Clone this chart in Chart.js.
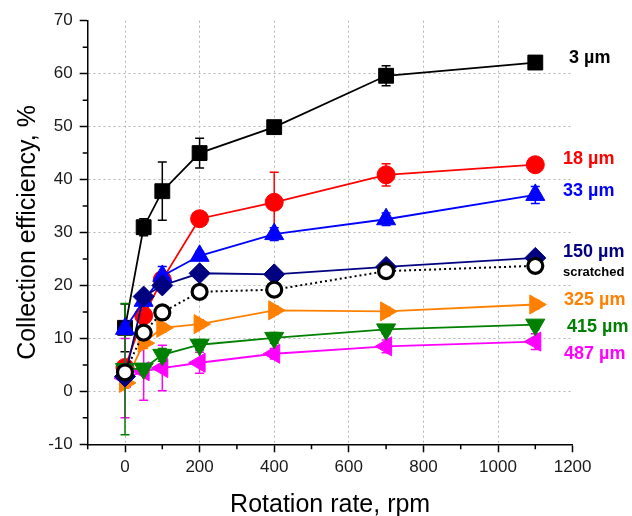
<!DOCTYPE html>
<html>
<head>
<meta charset="utf-8">
<title>Collection efficiency vs rotation rate</title>
<script src="https://cdn.jsdelivr.net/npm/chart.js@4.4.1/dist/chart.umd.min.js"></script>
<style>
  html, body { margin: 0; padding: 0; background: #fff; }
  canvas { display: block; }
</style>
</head>
<body>
<canvas id="chart" width="632" height="516"></canvas>
<script>
// rotation rates (rpm) shared by every series
const rpm = [0, 50, 100, 200, 400, 700, 1100];

// collection efficiency (%) and error (+/-) per particle size
const eff3 = [12.0, 31.0, 37.8, 45.0, 49.9, 59.6, 62.1];
const err3 = [4.5, 1.6, 5.5, 2.8, 0.6, 1.9, 0.6];
const eff18 = [4.5, 14.3, 21.1, 32.6, 35.7, 40.9, 42.8];
const err18 = [0.8, 0.8, 1.2, 0.5, 5.7, 2.1, 0.5];
const eff33 = [11.8, 17.1, 21.8, 25.6, 29.7, 32.5, 37.1];
const err33 = [1.0, 1.0, 1.8, 0.8, 1.2, 1.2, 1.6];
const eff150 = [2.8, 17.9, 20.0, 22.3, 22.1, 23.5, 25.2];
const err150 = [0.5, 1.0, 0.8, 0.5, 0.5, 0.5, 0.5];
const eff150s = [3.6, 11.1, 14.9, 18.8, 19.2, 22.7, 23.7];
const eff325 = [1.6, 9.1, 12.0, 12.7, 15.3, 15.1, 16.4];
const err325 = [1.0, 1.0, 0.8, 0.8, 0.8, 0.8, 0.8];
const eff415 = [4.2, 4.3, 6.9, 8.8, 10.1, 11.7, 12.6];
const err415 = [12.4, 0.8, 1.2, 1.0, 1.0, 0.8, 0.8];
const eff487 = [2.5, 3.8, 4.4, 5.4, 7.1, 8.5, 9.4];
const err487 = [7.5, 5.5, 4.3, 2.0, 1.0, 1.2, 1.5];

const seriesNames = ['3 µm', '18 µm', '33 µm', '150 µm', '150 µm scratched', '325 µm', '415 µm', '487 µm'];

// x ticks: labels every 200, minor ticks every 100
const xMajor = [0, 200, 400, 600, 800, 1000, 1200];
const yMajor = [-10, 0, 10, 20, 30, 40, 50, 60, 70];

const FONT = "'Liberation Sans', Arial, sans-serif";

function points(vals) {
  return rpm.map((x, i) => ({ x: x, y: vals[i] }));
}

function series(idx, vals, errs, color, style, opts) {
  return Object.assign({
    label: seriesNames[idx],
    data: points(vals),
    errors: errs,
    borderColor: color,
    backgroundColor: color,
    borderWidth: 1.8,
    pointStyle: style,
    pointRadius: 11,
    pointBorderWidth: 1,
    pointBorderColor: color,
    pointBackgroundColor: color,
    tension: 0
  }, opts || {});
}

const datasets = [
  series(0, eff3, err3, '#000000', 'rect', { pointRadius: 10.5, order: 8 }),
  series(1, eff18, err18, '#ff0000', 'circle', { pointRadius: 9, order: 7 }),
  series(2, eff33, err33, '#0000ff', 'triangle', { order: 3 }),
  series(3, eff150, err150, '#000080', 'rectRot', { pointRadius: 10.5, order: 2 }),
  series(4, eff150s, null, '#000000', 'circle', {
    pointRadius: 7.5, pointBorderWidth: 3.2, pointBackgroundColor: '#ffffff',
    borderWidth: 2, borderDash: [2, 3], order: 1
  }),
  series(5, eff325, err325, '#ff8000', 'triangle', { pointRotation: 90, order: 5 }),
  series(6, eff415, err415, '#008000', 'triangle', { pointRotation: 180, order: 4 }),
  series(7, eff487, err487, '#ff00ff', 'triangle', { pointRotation: 270, order: 6 })
];

// text labels at the right end of each curve
const curveLabels = [
  { text: '3 µm', color: '#000000', x: 569, y: 58, size: 18 },
  { text: '18 µm', color: '#ff0000', x: 563, y: 159, size: 18 },
  { text: '33 µm', color: '#0000ff', x: 563, y: 191, size: 18 },
  { text: '150 µm', color: '#000080', x: 563, y: 252, size: 18 },
  { text: 'scratched', color: '#000000', x: 563, y: 272, size: 13 },
  { text: '325 µm', color: '#ff8000', x: 564, y: 300, size: 18 },
  { text: '415 µm', color: '#008000', x: 567, y: 327, size: 18 },
  { text: '487 µm', color: '#ff00ff', x: 564, y: 354, size: 18 }
];

// vertical error bars, drawn right after each dataset
const errorBars = {
  id: 'errorBars',
  afterDatasetDraw(chart, args) {
    const ds = chart.data.datasets[args.index];
    if (!ds.errors) return;
    const { ctx, scales: { x, y } } = chart;
    ctx.save();
    ctx.strokeStyle = ds.borderColor;
    ctx.lineWidth = 1.5;
    ds.data.forEach((p, i) => {
      const e = ds.errors[i];
      const px = x.getPixelForValue(p.x);
      const top = y.getPixelForValue(p.y + e);
      const bot = y.getPixelForValue(p.y - e);
      ctx.beginPath();
      ctx.moveTo(px, top); ctx.lineTo(px, bot);
      ctx.moveTo(px - 4.5, top); ctx.lineTo(px + 4.5, top);
      ctx.moveTo(px - 4.5, bot); ctx.lineTo(px + 4.5, bot);
      ctx.stroke();
    });
    ctx.restore();
  }
};

// short minor tick marks (Chart.js only has one tick length)
const minorTicks = {
  id: 'minorTicks',
  afterDraw(chart) {
    const { ctx, scales: { x, y } } = chart;
    ctx.save();
    ctx.strokeStyle = '#000';
    ctx.lineWidth = 1.5;
    ctx.beginPath();
    x.ticks.forEach(t => {
      if (xMajor.includes(t.value)) return;
      const px = x.getPixelForValue(t.value);
      ctx.moveTo(px, x.top); ctx.lineTo(px, x.top + 5);
    });
    y.ticks.forEach(t => {
      if (yMajor.includes(t.value)) return;
      const py = y.getPixelForValue(t.value);
      ctx.moveTo(y.right, py); ctx.lineTo(y.right - 5, py);
    });
    ctx.stroke();
    ctx.restore();
  }
};

const labelsPlugin = {
  id: 'curveLabels',
  afterDraw(chart) {
    const ctx = chart.ctx;
    ctx.save();
    ctx.textAlign = 'left';
    ctx.textBaseline = 'middle';
    curveLabels.forEach(l => {
      ctx.font = 'bold ' + l.size + 'px ' + FONT;
      ctx.fillStyle = l.color;
      ctx.fillText(l.text, l.x, l.y);
    });
    ctx.restore();
  }
};

function gridColor(major) {
  return c => {
    const v = c.tick ? c.tick.value : null;
    return major.includes(v) ? '#b4b4b4' : 'rgba(0,0,0,0)';
  };
}

const ctx = document.getElementById('chart').getContext('2d');
new Chart(ctx, {
  type: 'scatter',
  data: { datasets: datasets },
  options: {
    responsive: false,
    animation: false,
    showLine: true,
    layout: { padding: { top: 20.7, right: 59.4, left: 0, bottom: 0 } },
    plugins: {
      legend: { display: false },
      tooltip: { enabled: false }
    },
    scales: {
      x: {
        type: 'linear',
        min: -100,
        max: 1200,
        afterFit: s => { s.height = 71.7; },
        ticks: {
          stepSize: 100,
          autoSkip: false,
          maxRotation: 0,
          padding: 5,
          color: '#1a1a1a',
          font: { family: FONT, size: 17 },
          callback: v => (xMajor.includes(v) ? String(v) : '')
        },
        grid: {
          color: gridColor([0, 200, 400, 600, 800, 1000]),
          lineWidth: 1,
          tickLength: 8,
          tickWidth: 1.5,
          tickColor: c => (c.tick && xMajor.includes(c.tick.value) ? '#000' : 'rgba(0,0,0,0)')
        },
        border: { display: true, color: '#000', width: 1.5, dash: [2, 3] },
        title: {
          display: true,
          text: 'Rotation rate, rpm',
          color: '#000',
          font: { family: FONT, size: 25, lineHeight: 0.9 },
          padding: { top: 0, bottom: 0 }
        }
      },
      y: {
        min: -10,
        max: 70,
        afterFit: s => { s.width = 87.7; },
        ticks: {
          stepSize: 5,
          autoSkip: false,
          padding: 7,
          color: '#1a1a1a',
          font: { family: FONT, size: 17 },
          callback: v => (yMajor.includes(v) ? String(v) : '')
        },
        grid: {
          color: gridColor([0, 10, 20, 30, 40, 50, 60]),
          lineWidth: 1,
          tickLength: 8,
          tickWidth: 1.5,
          tickColor: c => (c.tick && yMajor.includes(c.tick.value) ? '#000' : 'rgba(0,0,0,0)')
        },
        border: { display: true, color: '#000', width: 1.5, dash: [2, 3] },
        title: {
          display: true,
          text: 'Collection efficiency, %',
          color: '#000',
          font: { family: FONT, size: 25, lineHeight: 1 },
          padding: { top: 15.5, bottom: 0 }
        }
      }
    }
  },
  plugins: [errorBars, minorTicks, labelsPlugin]
});
</script>
</body>
</html>
